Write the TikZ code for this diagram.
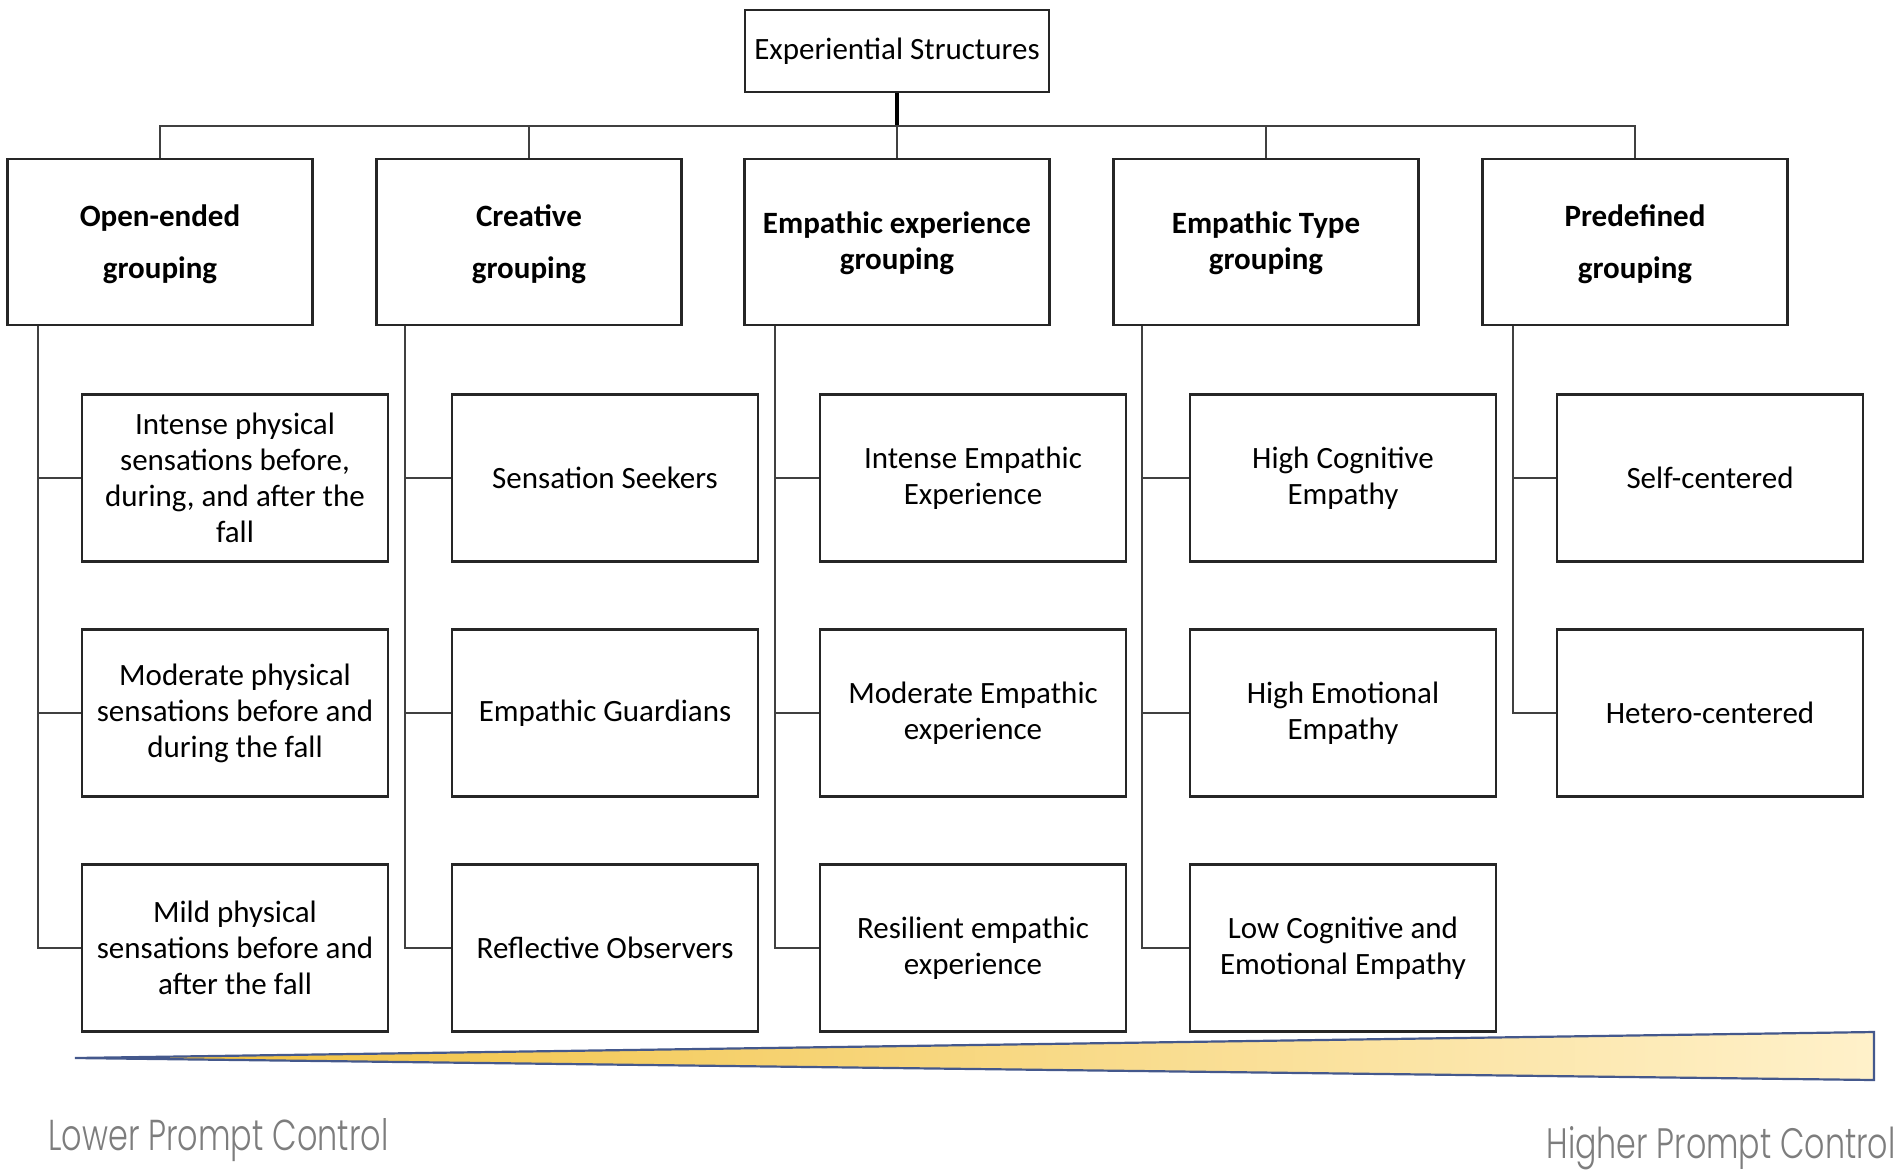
\documentclass[tikz,border=0pt]{standalone}
\usepackage{fontspec}
\setmainfont{Carlito}
\newfontfamily\lightfont{Poppins}[UprightFont={* Light}]
\usepackage{graphicx}
\definecolor{wedgeblue}{RGB}{68,88,140}
\definecolor{goldA}{RGB}{240,190,55}
\definecolor{goldB}{RGB}{255,222,115}
\definecolor{goldC}{RGB}{255,241,202}
\definecolor{labelgray}{RGB}{125,125,125}
\newcommand{\toprule}{\rule{0pt}{13.5pt}}
\tikzset{
  box/.style={draw=black!85, line width=1.1pt, fill=white, inner sep=0pt, align=center},
  topbox/.style={box, minimum width=152pt, minimum height=41pt, font=\fontsize{15.5}{18}\selectfont},
  grpbox/.style={box, minimum width=152.5pt, minimum height=83pt, font=\bfseries\fontsize{15.5}{26}\selectfont},
  grpboxtight/.style={grpbox, font=\bfseries\fontsize{15.5}{18}\selectfont},
  childbox/.style={box, minimum width=153pt, minimum height=83.5pt, font=\fontsize{15.5}{18}\selectfont},
  conn/.style={draw=black!75, line width=1pt},
  mainconn/.style={draw=black, line width=1.6pt},
  ctrllabel/.style={inner sep=0pt, text=labelgray},
}
\begin{document}
\begin{tikzpicture}[x=0.5pt, y=-0.5pt]
\useasboundingbox (0,0) rectangle (1902,1175);

% root
\node[topbox] (top) at (897,51) {Experiential Structures};

% groups
\node[grpbox] (g1) at (160,242) {\toprule Open-ended\\grouping};
\node[grpbox] (g2) at (529,242) {\toprule Creative\\grouping};
\node[grpboxtight] (g3) at (897,242) {\strut Empathic experience\\grouping};
\node[grpboxtight] (g4) at (1266,242) {\strut Empathic Type\\grouping};
\node[grpbox] (g5) at (1635,242) {\toprule Predefined\\grouping};

% children
\node[childbox] (c11) at (235,478) {Intense physical\\sensations before,\\during, and after the\\fall};
\node[childbox] (c12) at (235,713) {Moderate physical\\sensations before and\\during the fall};
\node[childbox] (c13) at (235,948) {Mild physical\\sensations before and\\after the fall};

\node[childbox] (c21) at (605,478) {Sensation Seekers};
\node[childbox] (c22) at (605,713) {Empathic Guardians};
\node[childbox] (c23) at (605,948) {Reflective Observers};

\node[childbox] (c31) at (973,478) {Intense Empathic\\Experience};
\node[childbox] (c32) at (973,713) {Moderate Empathic\\experience};
\node[childbox] (c33) at (973,948) {Resilient empathic\\experience};

\node[childbox] (c41) at (1343,478) {High Cognitive\\Empathy};
\node[childbox] (c42) at (1343,713) {High Emotional\\Empathy};
\node[childbox] (c43) at (1343,948) {Low Cognitive and\\Emotional Empathy};

\node[childbox] (c51) at (1710,478) {Self-centered};
\node[childbox] (c52) at (1710,713) {Hetero-centered};

% root to bus
\coordinate (bus) at (897,126);
\draw[mainconn] (top.south) -- (bus);
\draw[conn] (g1.north) |- (bus) -| (g5.north);
\draw[conn] (g2.north) -- (g2.north |- bus);
\draw[conn] (g3.north) -- (g3.north |- bus);
\draw[conn] (g4.north) -- (g4.north |- bus);

% trunks
\coordinate (t1) at ([xshift=16pt]g1.south west);
\coordinate (t2) at ([xshift=15pt]g2.south west);
\coordinate (t3) at ([xshift=16pt]g3.south west);
\coordinate (t4) at ([xshift=15pt]g4.south west);
\coordinate (t5) at ([xshift=16pt]g5.south west);

\draw[conn] (t1) |- (c13.west);
\draw[conn] (c11.west) -- (c11.west -| t1);
\draw[conn] (c12.west) -- (c12.west -| t1);

\draw[conn] (t2) |- (c23.west);
\draw[conn] (c21.west) -- (c21.west -| t2);
\draw[conn] (c22.west) -- (c22.west -| t2);

\draw[conn] (t3) |- (c33.west);
\draw[conn] (c31.west) -- (c31.west -| t3);
\draw[conn] (c32.west) -- (c32.west -| t3);

\draw[conn] (t4) |- (c43.west);
\draw[conn] (c41.west) -- (c41.west -| t4);
\draw[conn] (c42.west) -- (c42.west -| t4);

\draw[conn] (t5) |- (c52.west);
\draw[conn] (c51.west) -- (c51.west -| t5);

% wedge
\coordinate (wtip) at (75,1058);
\coordinate (wtop) at (1874,1032);
\coordinate (wbot) at (1874,1080);
\path[draw=wedgeblue, line width=1.1pt, left color=goldA, middle color=goldB, right color=goldC]
  (wtip) -- (wtop) -- (wbot) -- cycle;

% labels
\node[ctrllabel, anchor=base west] (lower) at (48,1150)
  {\resizebox{170pt}{16pt}{\lightfont Lower Prompt Control}};
\node[ctrllabel, anchor=base east] (higher) at (1896,1158)
  {\resizebox{174.5pt}{16pt}{\lightfont Higher Prompt Control}};
\end{tikzpicture}
\end{document}
